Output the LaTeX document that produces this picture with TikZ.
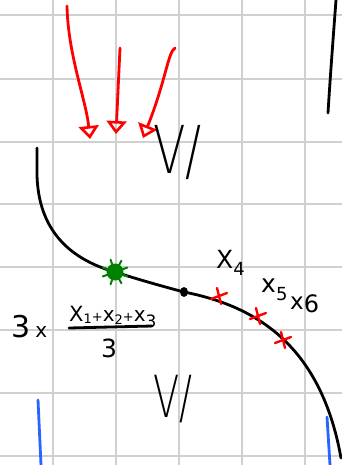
\documentclass[tikz,border=0pt]{standalone}
\usepackage{fontspec}
\usepackage{graphicx}
\setsansfont{DejaVu Sans}
\IfFontExistsTF{DejaVu Sans ExtraLight}{\newfontfamily\thinhand{DejaVu Sans ExtraLight}}{\newfontfamily\thinhand{DejaVu Sans}}
\usetikzlibrary{arrows.meta,shapes.geometric}
\definecolor{gridgray}{RGB}{208,208,208}
\definecolor{penred}{RGB}{255,0,0}
\definecolor{pengreen}{RGB}{0,128,0}
\definecolor{penblue}{RGB}{40,100,255}
\tikzset{
  gridline/.style={draw=gridgray, line width=1.8pt},
  pen/.style={draw=black, line width=2.8pt, line cap=round},
  redpen/.style={draw=penred, line width=2.8pt, line cap=round},
  bluepen/.style={draw=penblue, line width=2.8pt, line cap=round},
  redarrow/.style={redpen, -{Triangle[open, length=13pt, width=20pt, line width=2.6pt]}},
  hand/.style={font=\sffamily, inner sep=0pt, anchor=base west},
  cross/.style={redpen, line width=2.4pt},
}
\newcommand{\fs}[1]{\fontsize{#1}{#1}\selectfont}
\begin{document}
\begin{tikzpicture}[x=1pt, y=-1pt]
\useasboundingbox (0,0) rectangle (342,465);
\fill[white] (0,0) rectangle (342,465);
% grid
\foreach \gx in {53,116,179,242,305} \draw[gridline] (\gx,0) -- (\gx,465);
\foreach \gy in {15,79,142,204,267,330,393,456} \draw[gridline] (0,\gy) -- (342,\gy);
% red arrows
\coordinate (a1s) at (67,6);
\coordinate (a1e) at (90,139);
\coordinate (a2s) at (120,48);
\coordinate (a2e) at (116,134);
\coordinate (a3s) at (175,48);
\coordinate (a3e) at (143,138);
\draw[redarrow] (a1s) .. controls (68,55) and (86,100) .. (a1e);
\draw[redarrow] (a2s) -- (a2e);
\draw[redarrow] (a3s) .. controls (168,52) and (166,80) .. (a3e);
% V labels
\node[hand, anchor=base west] (vtop) at (153,173) {\thinhand\fs{66}\scalebox{0.72}[1]{V/}};
\node[hand, anchor=base west] (vbot) at (153,417) {\thinhand\fs{58}\scalebox{0.66}[1]{V/}};
% top-right black line
\coordinate (tr1) at (336,0);
\coordinate (tr2) at (328,113);
\draw[pen] (tr1) .. controls (333,40) and (330,80) .. (tr2);
% main black curve
\coordinate (c0) at (37,148);
\coordinate (cg) at (115,272);
\coordinate (cb) at (184,292);
\coordinate (cend) at (341,458);
\draw[pen] (c0) -- (37,175) .. controls (38,215) and (55,255) .. (cg)
  .. controls (140,280) and (165,287) .. (cb)
  .. controls (250,305) and (320,340) .. (cend);
% green blob
\node[circle, fill=pengreen, minimum size=17pt, inner sep=0pt] (green) at (cg) {};
\foreach \ang in {20,60,110,160,200,250,300,340}
  \draw[draw=pengreen, line width=2pt, line cap=round] (green.center) -- ++(\ang:13);
% black dot
\node[ellipse, fill=black, minimum width=8pt, minimum height=10pt, inner sep=0pt] (dot) at (cb) {};
% red crosses
\foreach \cx/\cy/\nm in {219/296/x4m, 258/316/x5m, 283/340/x6m}{
  \coordinate (\nm) at (\cx,\cy);
  \draw[cross] (\nm) ++(-8,3) -- ++(16,-6);
  \draw[cross] (\nm) ++(-2,-8) -- ++(4,16);
}
% labels
\node[hand] (lx4) at (216,268) {\fs{25}X\raisebox{-7pt}{\fs{18}4}};
\node[hand] (lx5) at (261,292) {\fs{25}x\raisebox{-8pt}{\fs{18}5}};
\node[hand] (lx6) at (290,309) {\fs{23}x\raisebox{-3pt}{\fs{24}6}};
\node[hand] (three) at (11,337) {\fs{30}3\hspace{5pt}\fs{20}x};
\node[hand] (num) at (69,321) {\fs{21}X\raisebox{-2pt}{\fs{13}1}\fs{13}+\fs{20}x\raisebox{-3pt}{\fs{13}2}\fs{13}+\fs{20}x\raisebox{-6pt}{\fs{17}3}};
\coordinate (barl) at (69,328);
\coordinate (barr) at (152,326);
\draw[pen] (barl) -- (barr);
\node[hand, anchor=base] (den) at (109,357) {\fs{25}3};
% blue lines
\coordinate (bl1) at (38,400);
\coordinate (bl2) at (41,465);
\coordinate (br1) at (327,417);
\coordinate (br2) at (330,465);
\draw[bluepen] (bl1) -- (bl2);
\draw[bluepen] (br1) -- (br2);
\end{tikzpicture}
\end{document}
